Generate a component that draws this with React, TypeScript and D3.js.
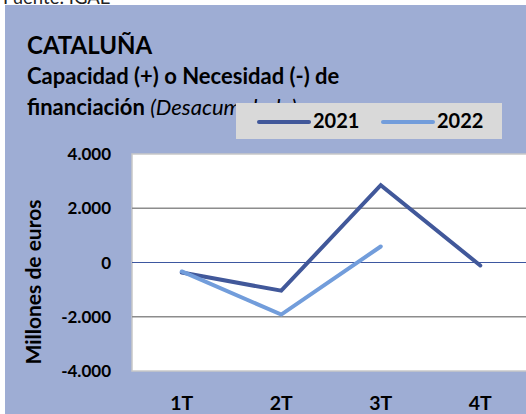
import { useEffect, useRef } from "react";
import * as d3 from "d3";

const categories = ["1T", "2T", "3T", "4T"];
const values2021 = [-370, -1040, 2850, -110];
const values2022 = [-330, -1920, 590];
const yTicks = [-4000, -2000, 0, 2000, 4000];
const seriesNames = ["2021", "2022"];

const FONT = "Lato, 'Open Sans', sans-serif";

function App() {
  const ref = useRef<SVGSVGElement>(null);

  useEffect(() => {
    const svg = d3.select(ref.current);
    svg.selectAll("*").remove();

    const width = 526;
    const height = 414;
    const plot = { left: 132, top: 154, right: 530, bottom: 371 };
    const colors = ["#41589a", "#729ddb"];

    // page bg + chart area
    svg.append("rect").attr("width", width).attr("height", height).attr("fill", "#ffffff");
    svg
      .append("text")
      .attr("x", 3)
      .attr("y", 4)
      .attr("font-family", FONT)
      .attr("font-size", 18.5)
      .attr("fill", "#222")
      .text("Fuente: IGAE");
    svg
      .append("rect")
      .attr("x", 5)
      .attr("y", 5)
      .attr("width", width - 5)
      .attr("height", height - 5)
      .attr("fill", "#9eadd4");

    const x = d3.scaleBand().domain(categories).range([plot.left, plot.right]);
    const y = d3.scaleLinear().domain([-4000, 4000]).range([plot.bottom, plot.top]);

    svg
      .append("rect")
      .attr("x", plot.left)
      .attr("y", plot.top)
      .attr("width", plot.right - plot.left)
      .attr("height", plot.bottom - plot.top)
      .attr("fill", "#ffffff")
      .attr("stroke", "#c8c8c8")
      .attr("stroke-width", 1.5);

    // gridlines
    svg
      .append("g")
      .selectAll("line")
      .data(yTicks.filter((t) => t !== -4000 && t !== 4000))
      .join("line")
      .attr("x1", plot.left)
      .attr("x2", plot.right)
      .attr("y1", (d) => y(d))
      .attr("y2", (d) => y(d))
      .attr("stroke", (d) => (d === 0 ? "#3d57a0" : "#8c8c8c"))
      .attr("stroke-width", (d) => (d === 0 ? 1.2 : 1.5));

    const fmt = (v: number) =>
      (v < 0 ? "-" : "") + d3.format(",")(Math.abs(v)).replace(/,/g, ".");

    svg
      .append("g")
      .selectAll("text")
      .data(yTicks)
      .join("text")
      .attr("x", 111)
      .attr("y", (d) => y(d) + 6)
      .attr("text-anchor", "end")
      .attr("font-family", FONT)
      .attr("font-weight", "bold")
      .attr("font-size", 17)
      .text((d) => fmt(d));

    svg
      .append("g")
      .selectAll("text")
      .data(categories)
      .join("text")
      .attr("x", (d) => (x(d) || 0) + x.bandwidth() / 2)
      .attr("y", 410)
      .attr("text-anchor", "middle")
      .attr("font-family", FONT)
      .attr("font-weight", "bold")
      .attr("font-size", 19.5)
      .text((d) => d);

    svg
      .append("text")
      .attr("transform", "translate(41,282) rotate(-90)")
      .attr("text-anchor", "middle")
      .attr("font-family", FONT)
      .attr("font-weight", "bold")
      .attr("font-size", 21)
      .text("Millones de euros");

    // lines
    const line = d3
      .line<number>()
      .x((_, i) => (x(categories[i]) || 0) + x.bandwidth() / 2)
      .y((d) => y(d));

    [values2021, values2022].forEach((vals, i) => {
      svg
        .append("path")
        .datum(vals)
        .attr("d", line)
        .attr("fill", "none")
        .attr("stroke", colors[i])
        .attr("stroke-width", 4)
        .attr("stroke-linecap", "round")
        .attr("stroke-linejoin", "miter");
    });

    // titles
    svg
      .append("text")
      .attr("x", 27)
      .attr("y", 54)
      .attr("font-family", FONT)
      .attr("font-weight", "bold")
      .attr("font-size", 24)
      .text("CATALUÑA");
    svg
      .append("text")
      .attr("x", 27)
      .attr("y", 84)
      .attr("font-family", FONT)
      .attr("font-weight", "bold")
      .attr("font-size", 22)
      .text("Capacidad (+) o Necesidad (-) de");
    const sub2 = svg
      .append("text")
      .attr("x", 27)
      .attr("y", 115)
      .attr("font-family", FONT)
      .attr("font-size", 22);
    sub2.append("tspan").attr("font-weight", "bold").text("financiación ");
    sub2.append("tspan").attr("font-style", "italic").text("(Desacumulado)");

    // legend
    const lg = svg.append("g").attr("transform", "translate(236,103)");
    lg.append("rect").attr("width", 266).attr("height", 36).attr("fill", "#d9d9d9");
    seriesNames.forEach((name, i) => {
      const ox = 23 + i * 124;
      lg.append("line")
        .attr("x1", ox)
        .attr("x2", ox + 50)
        .attr("y1", 19)
        .attr("y2", 19)
        .attr("stroke", colors[i])
        .attr("stroke-width", 4)
        .attr("stroke-linecap", "round");
      lg.append("text")
        .attr("x", ox + 54)
        .attr("y", 25)
        .attr("font-family", FONT)
        .attr("font-weight", "bold")
        .attr("font-size", 20)
        .text(name);
    });
  }, []);

  return (
    <svg
      ref={ref}
      width={526}
      height={414}
      style={{ position: "absolute", left: 0, top: 0, display: "block" }}
    />
  );
}

export default App;
